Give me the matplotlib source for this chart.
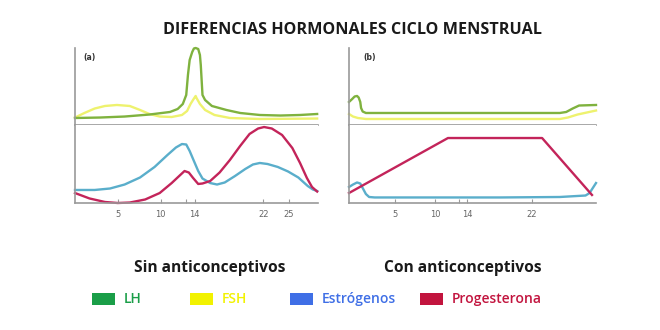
import matplotlib
matplotlib.use('Agg')
import matplotlib.pyplot as plt
from matplotlib.patches import Rectangle

# Niveles hormonales (unidades relativas 0-100) por día del ciclo
# --- (a) sin anticonceptivos ---
lh_a_dias = [0.0, 2.9, 5.8, 8.7, 11.1, 12.0, 12.6, 13.0, 13.2, 13.4, 13.7, 13.9, 14.1, 14.4,
             14.6, 14.7, 14.8, 14.9, 15.2, 16.0, 17.7, 19.3, 21.6, 24.0, 26.3, 28.3]
lh_a = [9.1, 9.7, 11.0, 13.6, 16.9, 20.8, 27.3, 39.0, 64.9, 84.4, 94.8, 99.4, 100, 98.7,
        90.9, 77.9, 58.4, 39.0, 32.5, 24.7, 19.5, 15.6, 13.0, 12.3, 13.0, 14.3]

fsh_a_dias = [0.0, 1.1, 2.3, 3.5, 4.9, 6.4, 7.6, 8.7, 9.9, 11.3, 12.5, 13.1, 13.5, 13.9,
              14.1, 14.2, 14.6, 15.2, 16.3, 18.1, 21.6, 28.3]
fsh_a = [9.7, 15.6, 21.4, 24.7, 26.0, 24.7, 19.5, 14.3, 11.0, 10.4, 13.0, 18.2, 27.3, 34.4,
         37.7, 35.1, 27.3, 19.5, 13.0, 9.1, 7.8, 8.4]

est_a_dias = [0.0, 2.3, 4.1, 5.8, 7.6, 9.3, 10.8, 11.8, 12.5, 13.0, 13.4, 13.9, 14.4, 14.9,
              15.8, 16.6, 17.5, 18.7, 19.9, 20.8, 21.6, 22.5, 23.7, 24.9, 26.1, 27.2, 27.8, 28.3]
est_a = [16.7, 16.7, 18.6, 23.7, 32.7, 46.2, 61.5, 71.2, 75.6, 75.0, 66.7, 53.8, 41.0, 31.4,
         25.6, 23.7, 26.3, 34.6, 43.6, 49.4, 51.3, 50.0, 46.2, 40.4, 32.7, 21.8, 17.3, 15.4]

prog_a_dias = [0.0, 1.7, 3.5, 5.0, 6.4, 8.2, 9.9, 11.3, 12.3, 12.8, 13.3, 13.8, 14.4, 14.9,
               15.8, 16.9, 18.1, 19.3, 20.4, 21.4, 22.1, 23.0, 24.2, 25.4, 26.3, 27.1, 27.7, 28.3]
prog_a = [12.8, 5.8, 1.3, 0.0, 0.6, 4.5, 12.8, 25.6, 35.9, 41.0, 39.1, 32.1, 24.4, 25.0,
          28.2, 39.1, 55.1, 73.1, 88.5, 95.5, 97.4, 95.5, 87.2, 70.5, 51.3, 32.1, 20.5, 14.7]

# --- (b) con anticonceptivos ---
lh_b_dias = [-0.7, -0.3, 0.0, 0.3, 0.5, 0.7, 0.8, 1.0, 1.4, 25.5, 26.3, 27.1, 27.9, 30.0]
lh_b = [29.9, 33.8, 37.0, 37.7, 35.7, 29.9, 22.1, 17.5, 15.6, 15.6, 16.9, 21.4, 25.3, 26.0]

fsh_b_dias = [-0.7, -0.2, 0.4, 1.4, 25.5, 26.5, 27.7, 30.0]
fsh_b = [14.3, 11.0, 9.1, 7.8, 7.8, 9.7, 13.6, 18.8]

est_b_dias = [-0.7, -0.2, 0.3, 0.7, 1.0, 1.4, 1.8, 2.5, 18.1, 25.5, 28.7, 29.2, 29.6, 30.0]
est_b = [20.5, 23.7, 26.3, 25.0, 19.2, 11.5, 7.7, 7.1, 7.1, 7.7, 9.6, 12.8, 19.2, 25.6]

prog_b_dias = [-0.7, 11.6, 23.3, 29.5]
prog_b = [12.8, 83.3, 83.3, 10.3]

ticks_a = [5, 10, 13, 14, 22, 25]
ticks_b = [5, 10, 13, 14, 22]

c_lh = '#7fb23e'
c_fsh = '#eef26e'
c_est = '#5aaecb'
c_prog = '#c3245a'

leyenda = ['LH', 'FSH', 'Estrógenos', 'Progesterona']
leyenda_col = ['#1a9e48', '#f2f200', '#3f6fe6', '#c2143e']

W, H = 660, 330
fig = plt.figure(figsize=(6.6, 3.3), dpi=100)
fig.patch.set_facecolor('white')


def px_axes(x0, x1, y0, y1):
    # caja en píxeles -> coordenadas de figura
    return fig.add_axes([x0 / W, 1 - y1 / H, (x1 - x0) / W, (y1 - y0) / H])


def estilo(ax, xlim, ticks=None):
    ax.set_xlim(*xlim)
    ax.set_ylim(0, 100)
    for s in ['top', 'right']:
        ax.spines[s].set_visible(False)
    for s in ['left', 'bottom']:
        ax.spines[s].set_color('#9a9a9a')
        ax.spines[s].set_linewidth(1.2)
    ax.set_yticks([])
    if ticks is None:
        ax.set_xticks([])
    else:
        ax.set_xticks(ticks)
        ax.set_xticklabels(['' if t == 13 else str(t) for t in ticks])
        ax.tick_params(axis='x', direction='in', length=3, width=0.8, color='#9a9a9a',
                       labelsize=6, labelcolor='#666666', pad=5)


xlim_a = (0, 28.4)
xlim_b = (-0.7, 30.0)
lw = 1.7

# panel (a)
ax = px_axes(75, 318, 48, 125)
estilo(ax, xlim_a)
ax.plot(fsh_a_dias, fsh_a, color=c_fsh, lw=lw, clip_on=False)
ax.plot(lh_a_dias, lh_a, color=c_lh, lw=lw, clip_on=False)
ax.text(0.035, 0.85, '(a)', transform=ax.transAxes, fontsize=5.5, fontweight='bold', color='#333333')

ax = px_axes(75, 318, 125, 203)
estilo(ax, xlim_a, ticks_a)
ax.plot(est_a_dias, est_a, color=c_est, lw=lw, clip_on=False)
ax.plot(prog_a_dias, prog_a, color=c_prog, lw=lw, clip_on=False)

# panel (b)
ax = px_axes(349, 596, 48, 125)
estilo(ax, xlim_b)
ax.plot(fsh_b_dias, fsh_b, color=c_fsh, lw=lw, clip_on=False)
ax.plot(lh_b_dias, lh_b, color=c_lh, lw=lw, clip_on=False)
ax.text(0.06, 0.85, '(b)', transform=ax.transAxes, fontsize=5.5, fontweight='bold', color='#333333')

ax = px_axes(349, 596, 125, 203)
estilo(ax, xlim_b, ticks_b)
ax.plot(est_b_dias, est_b, color=c_est, lw=lw, clip_on=False)
ax.plot(prog_b_dias, prog_b, color=c_prog, lw=lw, clip_on=False)

# textos
fig.text(352 / W, 1 - 30 / H, 'DIFERENCIAS HORMONALES CICLO MENSTRUAL', ha='center', va='center',
         fontsize=11.6, fontweight='bold', family='Open Sans', color='#1a1a1a')
fig.text(210 / W, 1 - 268 / H, 'Sin anticonceptivos', ha='center', va='center',
         fontsize=11.2, fontweight='bold', family='Open Sans', color='#1a1a1a')
fig.text(463 / W, 1 - 268 / H, 'Con anticonceptivos', ha='center', va='center',
         fontsize=11.2, fontweight='bold', family='Open Sans', color='#1a1a1a')

# leyenda
caja_x = [92, 190, 290, 420]
for x, nombre, col in zip(caja_x, leyenda, leyenda_col):
    fig.patches.append(Rectangle((x / W, 1 - 305 / H), 23 / W, 12 / H, transform=fig.transFigure,
                                 facecolor=col, edgecolor='none'))
    fig.text((x + 32) / W, 1 - 299 / H, nombre, ha='left', va='center', fontsize=10,
             family='Open Sans', fontweight='semibold', color=col)

fig.savefig('out.png', dpi=100)
